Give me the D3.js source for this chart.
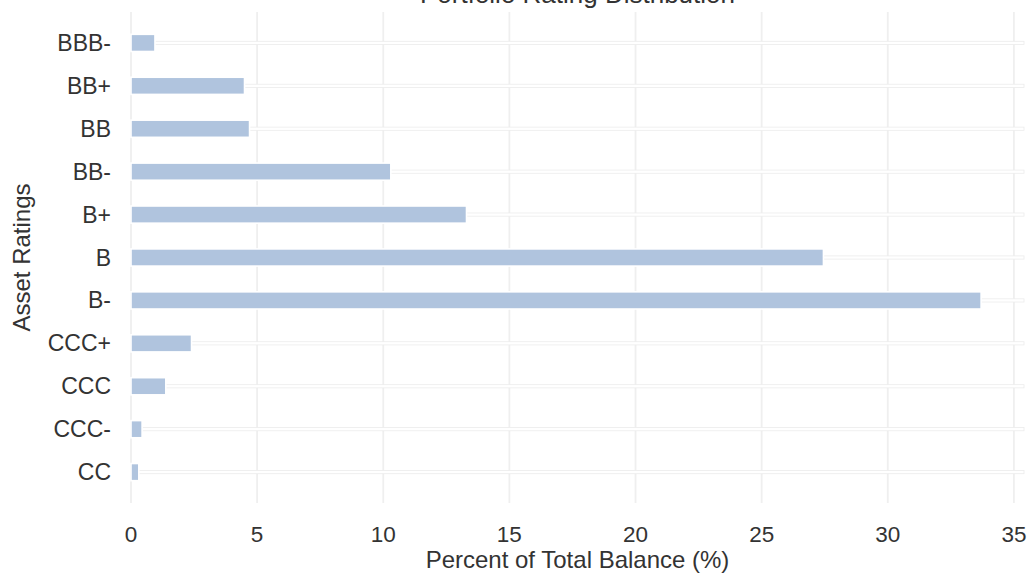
<!DOCTYPE html>
<html>
<head>
<meta charset="UTF-8">
<title>Portfolio Rating Distribution</title>
<script src="https://cdn.jsdelivr.net/npm/d3@7"></script>
<style>
  body { margin: 0; background: #fff; }
  svg text { font-family: "Liberation Sans", Arial, sans-serif; fill: #333; }
</style>
</head>
<body>
<script>
// ratings top to bottom, and percent of balance in each
var ratings = ["BBB-", "BB+", "BB", "BB-", "B+", "B", "B-", "CCC+", "CCC", "CCC-", "CC"];
var percents = [0.95, 4.5, 4.7, 10.3, 13.3, 27.45, 33.7, 2.4, 1.38, 0.44, 0.31];
var xTicks = [0, 5, 10, 15, 20, 25, 30, 35];

var W = 1028, H = 574;
var plotL = 131, plotR = 1024, plotT = 12, plotB = 503;

var svg = d3.select("body").append("svg")
    .attr("width", W)
    .attr("height", H);

var x = d3.scaleLinear().domain([0, 35.4]).range([plotL, plotR]);
var y = d3.scalePoint().domain(ratings).range([plotT, plotB]).padding(0.72);
var barH = y.step() * 0.4;

// vertical grid
svg.append("g").selectAll("line")
    .data(xTicks)
    .enter().append("line")
    .attr("x1", function (d) { return x(d); })
    .attr("x2", function (d) { return x(d); })
    .attr("y1", plotT)
    .attr("y2", plotB)
    .attr("stroke", "#efefef")
    .attr("stroke-width", 1.8);

// thin tracks behind each bar, out to the right edge
svg.append("g").selectAll("rect")
    .data(ratings)
    .enter().append("rect")
    .attr("x", x(0))
    .attr("y", function (d) { return y(d) - 1.6; })
    .attr("width", plotR - x(0))
    .attr("height", 3.2)
    .attr("fill", "#fff")
    .attr("stroke", "#ececec")
    .attr("stroke-width", 0.8);

// bars
svg.append("g").selectAll("rect")
    .data(percents)
    .enter().append("rect")
    .attr("x", x(0))
    .attr("y", function (d, i) { return y(ratings[i]) - barH / 2; })
    .attr("width", function (d) { return x(d) - x(0); })
    .attr("height", barH)
    .attr("fill", "#b0c4de")
    .attr("stroke", "#fff")
    .attr("stroke-width", 1.6);

// x tick labels
svg.append("g").selectAll("text")
    .data(xTicks)
    .enter().append("text")
    .attr("x", function (d) { return x(d); })
    .attr("y", 542)
    .attr("text-anchor", "middle")
    .style("font-size", "22.5px")
    .text(function (d) { return d; });

// y tick labels
svg.append("g").selectAll("text")
    .data(ratings)
    .enter().append("text")
    .attr("x", 111)
    .attr("y", function (d) { return y(d); })
    .attr("dy", "0.35em")
    .attr("text-anchor", "end")
    .style("font-size", "23px")
    .text(function (d) { return d; });

// axis labels and title
svg.append("text")
    .attr("x", (plotL + plotR) / 2)
    .attr("y", 568)
    .attr("text-anchor", "middle")
    .style("font-size", "24px")
    .text("Percent of Total Balance (%)");

svg.append("text")
    .attr("transform", "translate(30," + ((plotT + plotB) / 2) + ") rotate(-90)")
    .attr("text-anchor", "middle")
    .style("font-size", "24px")
    .text("Asset Ratings");

svg.append("text")
    .attr("x", (plotL + plotR) / 2)
    .attr("y", 3)
    .attr("text-anchor", "middle")
    .style("font-size", "26px")
    .text("Portfolio Rating Distribution");
</script>
</body>
</html>
